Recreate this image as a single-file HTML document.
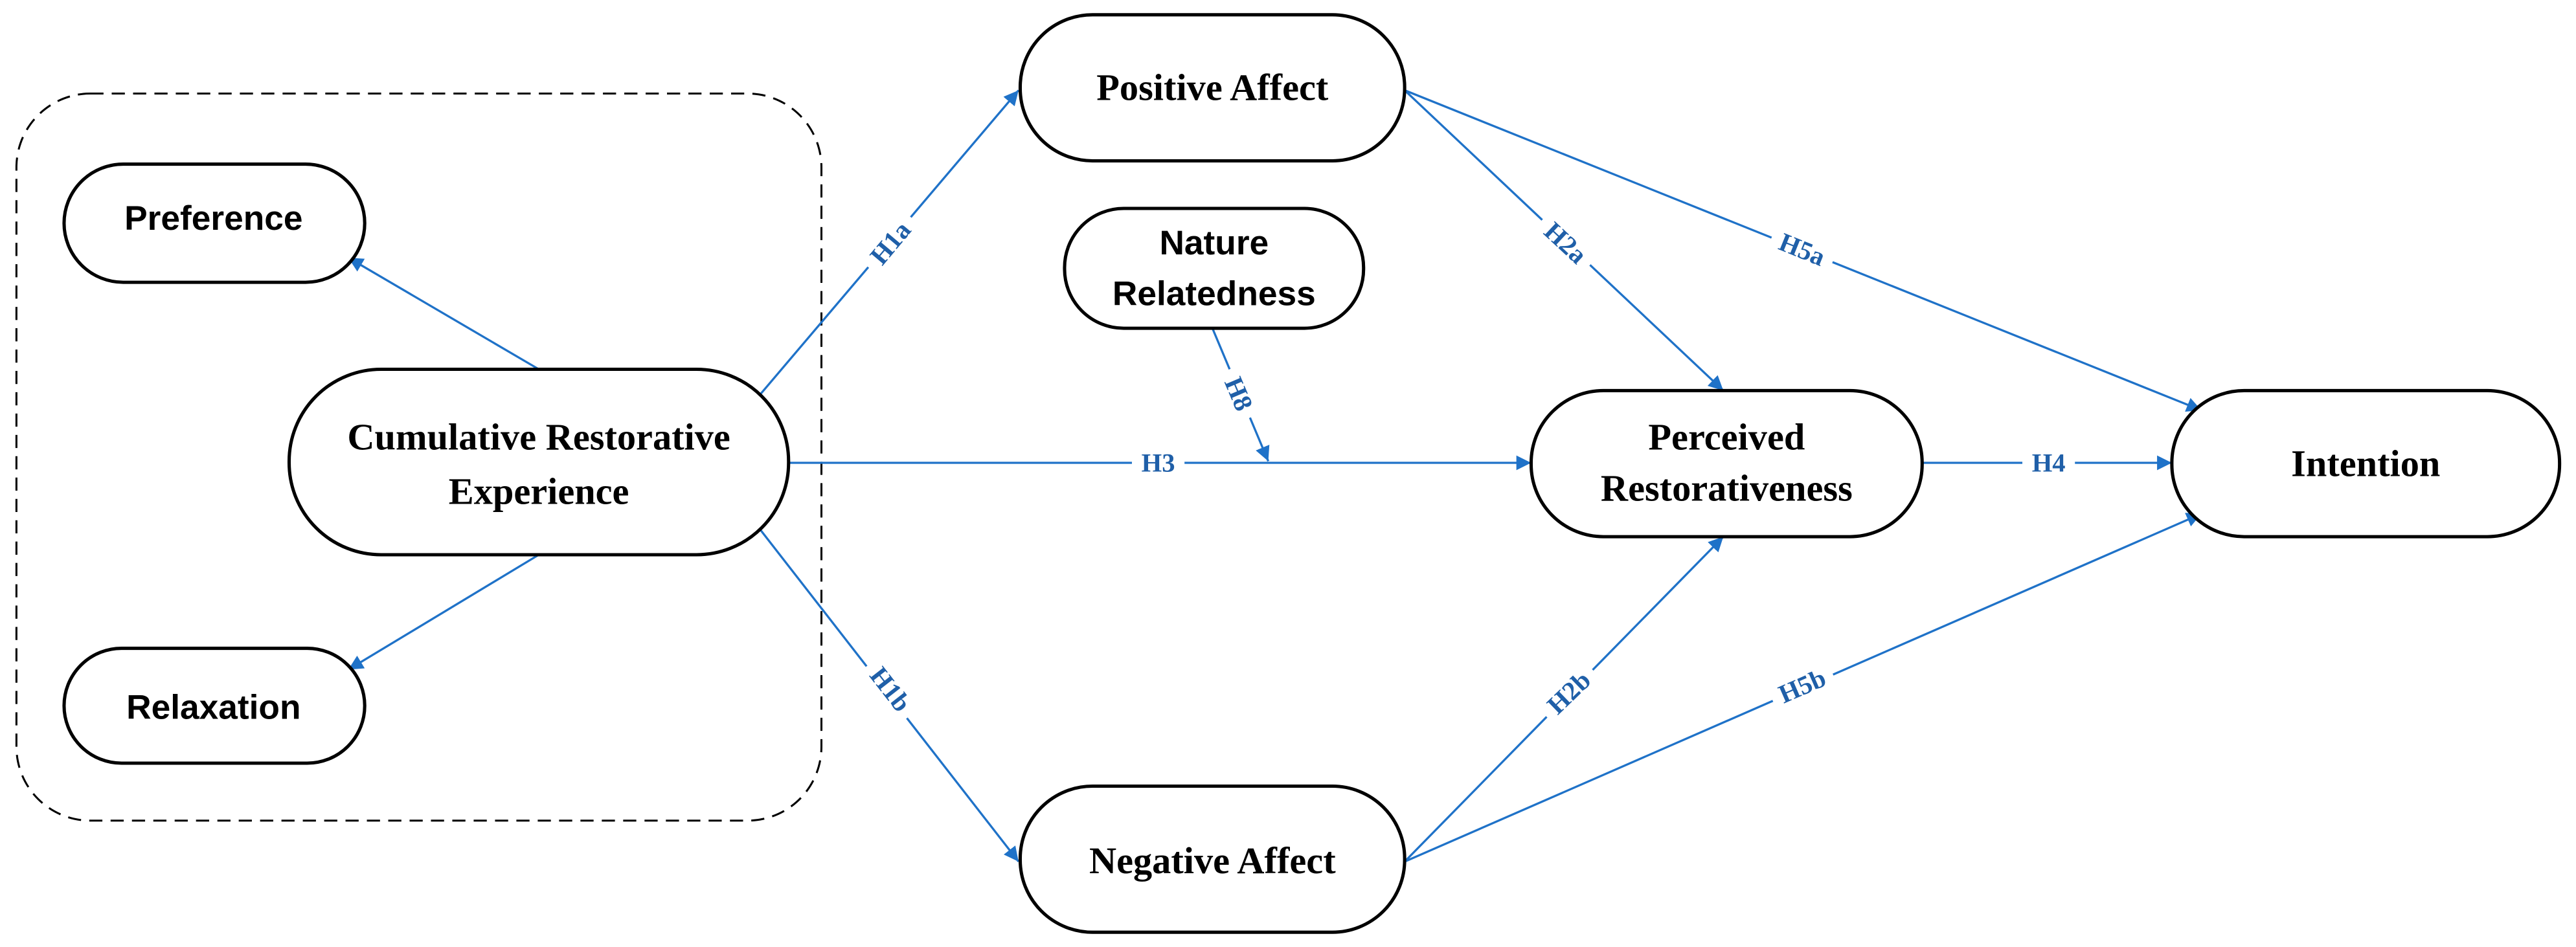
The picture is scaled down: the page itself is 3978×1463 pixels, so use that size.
<!DOCTYPE html>
<html><head><meta charset="utf-8"><style>
html,body{margin:0;padding:0;background:#fff;}
svg{display:block;}
.n{fill:#fff;stroke:#000;stroke-width:2;}
.s{font-family:"Liberation Serif",serif;font-weight:bold;font-size:23px;fill:#000;text-anchor:middle;}
.a{font-family:"Liberation Sans",sans-serif;font-weight:bold;font-size:21px;fill:#000;text-anchor:middle;}
.l{stroke:#1f72c8;stroke-width:1.3;fill:none;marker-end:url(#ar);}
.lb{font-family:"Liberation Serif",serif;font-weight:bold;font-size:16px;fill:#1f5fa8;text-anchor:middle;dominant-baseline:central;}
</style></head><body>
<svg width="3978" height="1463" viewBox="0 0 1568 577" preserveAspectRatio="none">
<defs><marker id="ar" viewBox="0 0 10 10" refX="10" refY="5" markerWidth="9" markerHeight="9" markerUnits="userSpaceOnUse" orient="auto"><path d="M0,0L10,5L0,10z" fill="#1f72c8"/></marker></defs>
<rect x="10" y="57" width="490" height="443" rx="45" fill="none" stroke="#000" stroke-width="1.2" stroke-dasharray="8,5"/>
<!-- connectors -->
<line class="l" x1="328" y1="225" x2="212" y2="157"/>
<line class="l" x1="328" y1="338" x2="212" y2="408"/>
<line class="l" x1="463" y1="240" x2="620" y2="55"/>
<line class="l" x1="463" y1="323" x2="620" y2="525"/>
<line class="l" x1="480" y1="282" x2="932" y2="282"/>
<line class="l" x1="738" y1="200" x2="772" y2="281"/>
<line class="l" x1="855" y1="55" x2="1049" y2="238"/>
<line class="l" x1="855" y1="525" x2="1049" y2="327"/>
<line class="l" x1="855" y1="55" x2="1340" y2="250"/>
<line class="l" x1="855" y1="525" x2="1340" y2="313"/>
<line class="l" x1="1170" y1="282" x2="1322" y2="282"/>
<!-- labels -->
<g transform="translate(542,148) rotate(-50)"><rect x="-20" y="-11" width="40" height="22" fill="#fff"/><text class="lb">H1a</text></g>
<g transform="translate(542,420) rotate(52)"><rect x="-20" y="-11" width="40" height="22" fill="#fff"/><text class="lb">H1b</text></g>
<g transform="translate(705,282)"><rect x="-16" y="-11" width="32" height="22" fill="#fff"/><text class="lb">H3</text></g>
<g transform="translate(754,240) rotate(67)"><rect x="-16" y="-11" width="32" height="22" fill="#fff"/><text class="lb">H8</text></g>
<g transform="translate(953,148) rotate(43)"><rect x="-20" y="-11" width="40" height="22" fill="#fff"/><text class="lb">H2a</text></g>
<g transform="translate(955,422) rotate(-44)"><rect x="-20" y="-11" width="40" height="22" fill="#fff"/><text class="lb">H2b</text></g>
<g transform="translate(1097,152) rotate(22)"><rect x="-20" y="-11" width="40" height="22" fill="#fff"/><text class="lb">H5a</text></g>
<g transform="translate(1097,418) rotate(-23.5)"><rect x="-20" y="-11" width="40" height="22" fill="#fff"/><text class="lb">H5b</text></g>
<g transform="translate(1247,282)"><rect x="-16" y="-11" width="32" height="22" fill="#fff"/><text class="lb">H4</text></g>
<!-- nodes -->
<rect class="n" x="39" y="100" width="183" height="72" rx="36"/>
<text class="a" x="130" y="140">Preference</text>
<rect class="n" x="39" y="395" width="183" height="70" rx="35"/>
<text class="a" x="130" y="438">Relaxation</text>
<rect class="n" x="176" y="225" width="304" height="113" rx="56"/>
<text class="s" x="328" y="274">Cumulative Restorative</text>
<text class="s" x="328" y="307">Experience</text>
<rect class="n" x="621" y="9" width="234" height="89" rx="44"/>
<text class="s" x="738" y="61">Positive Affect</text>
<rect class="n" x="648" y="127" width="182" height="73" rx="36"/>
<text class="a" x="739" y="155">Nature</text>
<text class="a" x="739" y="186">Relatedness</text>
<rect class="n" x="621" y="479" width="234" height="89" rx="44"/>
<text class="s" x="738" y="532">Negative Affect</text>
<rect class="n" x="932" y="238" width="238" height="89" rx="44"/>
<text class="s" x="1051" y="274">Perceived</text>
<text class="s" x="1051" y="305">Restorativeness</text>
<rect class="n" x="1322" y="238" width="236" height="89" rx="44"/>
<text class="s" x="1440" y="290">Intention</text>
</svg>
</body></html>
